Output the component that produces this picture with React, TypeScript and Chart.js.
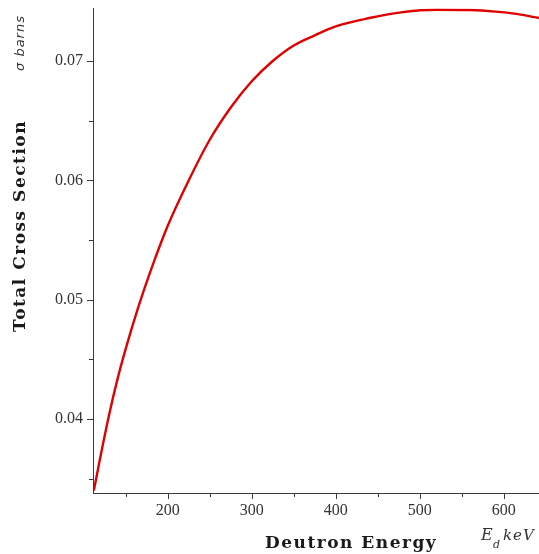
import React, { useEffect, useRef } from "react";
import { Chart, registerables } from "chart.js";

Chart.register(...registerables);

// Data
const energies = [112, 120, 130, 140, 150, 165, 180, 200, 225, 250, 275, 300, 325, 350, 375, 400, 440, 480, 520, 560, 590, 615, 642];
const sigma = [0.0340, 0.0369, 0.0403, 0.0433, 0.0459, 0.0494, 0.0525, 0.0562, 0.0600, 0.0634, 0.0661, 0.0683, 0.0700, 0.0713, 0.07215, 0.0729, 0.0736, 0.0741, 0.0743, 0.07427, 0.07414, 0.07395, 0.0736];

const xMajorTicks = [200, 300, 400, 500, 600];
const xMinorTicks = [150, 250, 350, 450, 550, 650];
const yMajorTicks = [0.04, 0.05, 0.06, 0.07];
const yMinorTicks = [0.035, 0.045, 0.055, 0.065];

const xMin = 111;
const xMax = 642;
const yMin = 0.0338;
const yMax = 0.0744;

const xTitle = "Deutron Energy";
const yTitle = "Total Cross Section";
const yUnit = "σ barns";

const axisColor = "#3a3a3a";
const tickFont = { family: "'Liberation Serif', serif", size: 16 };

const decorPlugin = {
  id: "decor",
  afterDraw(chart: any) {
    const ctx = chart.ctx as CanvasRenderingContext2D;
    const xs = chart.scales.x;
    const ys = chart.scales.y;
    const area = chart.chartArea;
    ctx.save();
    ctx.strokeStyle = axisColor;
    ctx.lineWidth = 1;
    const drawX = (v: number, len: number) => {
      const px = Math.round(xs.getPixelForValue(v)) + 0.5;
      if (px < area.left || px > area.right) return;
      ctx.beginPath();
      ctx.moveTo(px, area.bottom);
      ctx.lineTo(px, area.bottom + len);
      ctx.stroke();
    };
    xMajorTicks.forEach((v) => drawX(v, 6));
    xMinorTicks.forEach((v) => drawX(v, 4));
    const drawY = (v: number, len: number) => {
      const py = Math.round(ys.getPixelForValue(v)) + 0.5;
      if (py < area.top || py > area.bottom) return;
      ctx.beginPath();
      ctx.moveTo(area.left, py);
      ctx.lineTo(area.left - len, py);
      ctx.stroke();
    };
    yMajorTicks.forEach((v) => drawY(v, 6));
    yMinorTicks.forEach((v) => drawY(v, 4));

    // titles
    ctx.fillStyle = "#1a1a1a";
    ctx.font = "bold 17px 'DejaVu Serif', serif";
    (ctx as any).letterSpacing = "1.5px";
    ctx.textAlign = "left";
    ctx.textBaseline = "alphabetic";
    ctx.fillText(xTitle, 265, 548);

    ctx.save();
    ctx.translate(25, 226);
    ctx.rotate(-Math.PI / 2);
    ctx.textAlign = "center";
    ctx.fillText(yTitle, 0, 0);
    ctx.restore();

    ctx.save();
    ctx.fillStyle = "#333";
    ctx.translate(24, 43);
    ctx.rotate(-Math.PI / 2);
    ctx.textAlign = "center";
    ctx.font = "italic 13px 'DejaVu Sans', sans-serif";
    (ctx as any).letterSpacing = "1px";
    ctx.fillText(yUnit, 0, 0);
    ctx.restore();

    // E_d keV
    ctx.fillStyle = "#333";
    (ctx as any).letterSpacing = "0px";
    ctx.font = "italic 16px 'DejaVu Serif', serif";
    ctx.textAlign = "left";
    ctx.fillText("E", 481, 540);
    ctx.font = "italic 11px 'DejaVu Serif', serif";
    ctx.fillText("d", 493, 548);
    ctx.font = "italic 15px 'DejaVu Serif', serif";
    (ctx as any).letterSpacing = "1px";
    ctx.fillText("keV", 503, 540);
    ctx.restore();
  },
};

export default function App() {
  const ref = useRef<HTMLCanvasElement | null>(null);
  useEffect(() => {
    if (!ref.current) return;
    const chart = new Chart(ref.current, {
      type: "line",
      data: {
        datasets: [
          {
            data: energies.map((e, i) => ({ x: e, y: sigma[i] })),
            borderColor: "rgb(224,0,0)",
            borderWidth: 2.4,
            pointRadius: 0,
            fill: false,
            cubicInterpolationMode: "monotone",
          },
        ],
      },
      options: {
        animation: false,
        responsive: false,
        layout: { padding: { top: 8.5, left: 0, right: 0, bottom: 0 } },
        plugins: { legend: { display: false }, tooltip: { enabled: false } },
        scales: {
          x: {
            type: "linear",
            min: xMin,
            max: xMax,
            grid: { display: false, drawTicks: false },
            border: { display: true, color: axisColor, width: 1 },
            afterBuildTicks: (s: any) => {
              s.ticks = xMajorTicks.map((v) => ({ value: v }));
            },
            afterFit: (s: any) => {
              s.height = 61;
              s.paddingLeft = 0;
              s.paddingRight = 0;
            },
            ticks: {
              padding: 8,
              color: "#333",
              font: tickFont,
              maxRotation: 0,
              autoSkip: false,
              callback: (v: any) => String(v),
            },
          },
          y: {
            type: "linear",
            min: yMin,
            max: yMax,
            grid: { display: false, drawTicks: false },
            border: { display: true, color: axisColor, width: 1 },
            afterBuildTicks: (s: any) => {
              s.ticks = yMajorTicks.map((v) => ({ value: v }));
            },
            afterFit: (s: any) => {
              s.width = 93;
              s.paddingTop = 0;
              s.paddingBottom = 0;
            },
            ticks: {
              padding: 10,
              color: "#333",
              font: tickFont,
              autoSkip: false,
              callback: (v: any) => Number(v).toFixed(2),
            },
          },
        },
      },
      plugins: [decorPlugin],
    });
    return () => chart.destroy();
  }, []);
  return (
    <div style={{ position: "absolute", left: 0, top: 0, width: 539, height: 554, background: "#fff" }}>
      <canvas ref={ref} width={539} height={554} style={{ display: "block" }} />
    </div>
  );
}
